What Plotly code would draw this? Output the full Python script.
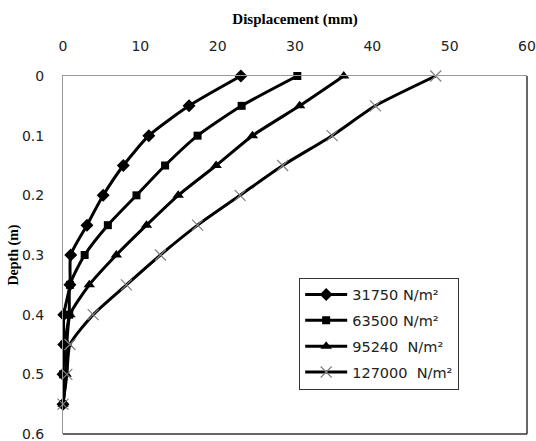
import plotly.graph_objects as go

depth = [0, 0.05, 0.1, 0.15, 0.2, 0.25, 0.3, 0.35, 0.4, 0.45, 0.5, 0.55]
disp_31750 = [23.0, 16.3, 11.1, 7.8, 5.2, 3.1, 1.0, 0.9, 0.1, 0.1, 0.0, 0.0]
disp_63500 = [30.3, 23.1, 17.4, 13.2, 9.5, 5.8, 2.8, 0.9, 0.8, 0.2, 0.0, 0.0]
disp_95240 = [36.3, 30.6, 24.5, 19.8, 14.9, 10.8, 6.9, 3.4, 0.9, 0.5, 0.4, 0.0]
disp_127000 = [48.2, 40.4, 34.8, 28.4, 22.9, 17.4, 12.6, 8.2, 3.9, 0.9, 0.5, 0.0]

x_ticks = [0, 10, 20, 30, 40, 50, 60]
y_ticks = [0, 0.1, 0.2, 0.3, 0.4, 0.5, 0.6]
y_ticklabels = ["0", "0.1", "0.2", "0.3", "0.4", "0.5", "0.6"]

names = ["31750 N/m²", "63500 N/m²", "95240\u00a0 N/m²", "127000\u00a0 N/m²"]
series = [disp_31750, disp_63500, disp_95240, disp_127000]
markers = [
    dict(symbol="diamond", size=10, color="black"),
    dict(symbol="square", size=8, color="black"),
    dict(symbol="triangle-up", size=10, color="black"),
    dict(symbol="x-thin", size=11, color="#808080", line=dict(color="#808080", width=1.2)),
]

fig = go.Figure()
for i, (nm, xs, mk) in enumerate(zip(names, series, markers)):
    fig.add_trace(go.Scatter(
        x=xs, y=depth, name=nm, mode="lines+markers",
        line=dict(color="black", width=3, shape="spline", smoothing=0.6),
        marker=mk, legendgroup=str(i), cliponaxis=False,
    ))

tickfont = dict(family="DejaVu Sans, sans-serif", size=14, color="#222")
fig.update_layout(
    width=536, height=441,
    margin=dict(l=63, r=9, t=76, b=7, autoexpand=False),
    paper_bgcolor="white", plot_bgcolor="white",
    showlegend=True,
    legend=dict(
        x=0.509, y=0.437, xanchor="left", yanchor="top",
        bordercolor="#333", borderwidth=1, bgcolor="white",
        font=dict(family="DejaVu Sans, sans-serif", size=14.5, color="#222"),
        tracegroupgap=4, itemwidth=42,
    ),
    xaxis=dict(
        side="top", range=[0, 60], tickvals=x_ticks, showgrid=False, zeroline=False,
        showline=True, linecolor="#999", linewidth=1, ticks="", automargin=False,
        tickfont=tickfont, ticklabelstandoff=18, ticklabeloverflow="allow",
        title=dict(text="<b>Displacement (mm)</b>", standoff=10,
                   font=dict(family="Liberation Serif, Times New Roman, serif", size=15, color="black")),
    ),
    yaxis=dict(
        range=[0.6, 0], tickvals=y_ticks, ticktext=y_ticklabels, showgrid=False, zeroline=False,
        showline=True, linecolor="#999", linewidth=1, ticks="", automargin=False,
        tickfont=tickfont, ticklabelstandoff=15, ticklabeloverflow="allow",
        title=dict(text="<b>Depth (m)</b>", standoff=0,
                   font=dict(family="Liberation Serif, Times New Roman, serif", size=14, color="black")),
    ),
    shapes=[
        dict(type="line", xref="paper", yref="paper", x0=1, x1=1, y0=0, y1=1,
             line=dict(color="#333", width=1.5)),
        dict(type="line", xref="paper", yref="paper", x0=0, x1=1, y0=0, y1=0,
             line=dict(color="#333", width=1.5)),
    ],
)

fig.write_html("out.html")
